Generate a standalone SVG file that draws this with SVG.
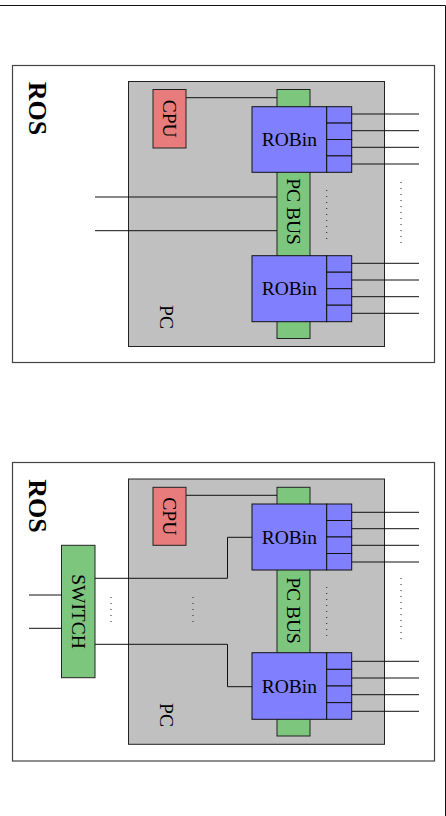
<svg xmlns="http://www.w3.org/2000/svg" width="446" height="816" viewBox="0 0 446 816">
<style>
.frame{fill:#fff;stroke:#444;stroke-width:1.2}
.pc{fill:#c0c0c0;stroke:#222;stroke-width:1}
.cpu{fill:#e87c7c;stroke:#222;stroke-width:1}
.grn{fill:#7dc67d;stroke:#222;stroke-width:1}
.rob{fill:#8080ff;stroke:#111;stroke-width:1}
.ln{fill:none;stroke:#111;stroke-width:1}
.dot{fill:none;stroke:#222;stroke-width:1;stroke-dasharray:1 5}
text{font-family:"Liberation Serif","Times New Roman",serif;font-size:19.5px;fill:#000;text-anchor:middle;dominant-baseline:central}
.ros{font-weight:bold;font-size:26px}
</style>
<g id="border"><path class="ln" d="M0 5.5H445.5V816"/></g>

<!-- Panel 1 -->
<g id="panel1">
<rect class="frame" x="12.5" y="65.5" width="422" height="297"/>
<text class="ros" transform="translate(37,108.5) rotate(90)">ROS</text>
</g>
<g id="pc1"><rect class="pc" x="128.5" y="81.5" width="256" height="265"/>
<text transform="translate(166,317) rotate(90)">PC</text></g>
<g id="bus1"><rect class="grn" x="277" y="89.5" width="33" height="249"/>
<text transform="translate(293.5,211.5) rotate(90)">PC BUS</text></g>
<g id="cpu1"><rect class="cpu" x="153" y="89.5" width="33" height="58.5"/>
<text transform="translate(169.5,118.7) rotate(90)">CPU</text></g>
<g id="robin1a"><rect class="rob" x="252" y="106.7" width="74.7" height="65.6"/>
<rect class="rob" x="326.7" y="106.7" width="25" height="16.4"/>
<rect class="rob" x="326.7" y="123.1" width="25" height="16.4"/>
<rect class="rob" x="326.7" y="139.5" width="25" height="16.4"/>
<rect class="rob" x="326.7" y="155.9" width="25" height="16.4"/>
<text x="289.3" y="139.5">ROBin</text></g>
<g id="robin1b"><rect class="rob" x="252" y="255.7" width="74.7" height="66"/>
<rect class="rob" x="326.7" y="255.7" width="25" height="16.5"/>
<rect class="rob" x="326.7" y="272.2" width="25" height="16.5"/>
<rect class="rob" x="326.7" y="288.7" width="25" height="16.5"/>
<rect class="rob" x="326.7" y="305.2" width="25" height="16.5"/>
<text x="289.3" y="288.7">ROBin</text></g>
<g id="connectors1">
<path class="ln" d="M186 97.7H277"/>
<path class="ln" d="M95 197H277M95 230.7H277"/>
<path class="ln" d="M351.7 114H419M351.7 130.7H419M351.7 147.3H419M351.7 164H419"/>
<path class="ln" d="M351.7 263.3H419M351.7 280H419M351.7 296.7H419M351.7 313.3H419"/>
<path class="dot" d="M326.7 190V240M401 182V245"/>
</g>

<!-- Panel 2 -->
<g id="panel2">
<rect class="frame" x="12.5" y="462.5" width="422" height="298.5"/>
<text class="ros" transform="translate(37,506) rotate(90)">ROS</text>
</g>
<g id="pc2"><rect class="pc" x="128.5" y="479" width="256" height="265.3"/>
<text transform="translate(166,715) rotate(90)">PC</text></g>
<g id="bus2"><rect class="grn" x="277" y="487.3" width="33" height="248.7"/>
<text transform="translate(293.5,610.5) rotate(90)">PC BUS</text></g>
<g id="cpu2"><rect class="cpu" x="153" y="487.3" width="33" height="58"/>
<text transform="translate(169.5,516.3) rotate(90)">CPU</text></g>
<g id="switch"><rect class="grn" x="61.5" y="545.3" width="33.5" height="132.4"/>
<text transform="translate(78.2,611.5) rotate(90)">SWITCH</text></g>
<g id="robin2a"><rect class="rob" x="252" y="504" width="74.7" height="66"/>
<rect class="rob" x="326.7" y="504" width="25" height="16.5"/>
<rect class="rob" x="326.7" y="520.5" width="25" height="16.5"/>
<rect class="rob" x="326.7" y="537" width="25" height="16.5"/>
<rect class="rob" x="326.7" y="553.5" width="25" height="16.5"/>
<text x="289.3" y="537">ROBin</text></g>
<g id="robin2b"><rect class="rob" x="252" y="652.7" width="74.7" height="66.6"/>
<rect class="rob" x="326.7" y="652.7" width="25" height="16.65"/>
<rect class="rob" x="326.7" y="669.35" width="25" height="16.65"/>
<rect class="rob" x="326.7" y="686" width="25" height="16.65"/>
<rect class="rob" x="326.7" y="702.65" width="25" height="16.65"/>
<text x="289.3" y="686">ROBin</text></g>
<g id="connectors2">
<path class="ln" d="M186 495.3H277"/>
<path class="ln" d="M29 595H61.5M29 628.3H61.5"/>
<path class="ln" d="M95 578.3H227.5V537.3H252"/>
<path class="ln" d="M95 644.3H227.5V686.7H252"/>
<path class="ln" d="M351.7 512.3H419M351.7 528.7H419M351.7 545.3H419M351.7 562H419"/>
<path class="ln" d="M351.7 661.3H419M351.7 678H419M351.7 694.7H419M351.7 711.3H419"/>
<path class="dot" d="M326.7 587V638M401 578V643M111 597V627M193 597V627"/>
</g>
</svg>
